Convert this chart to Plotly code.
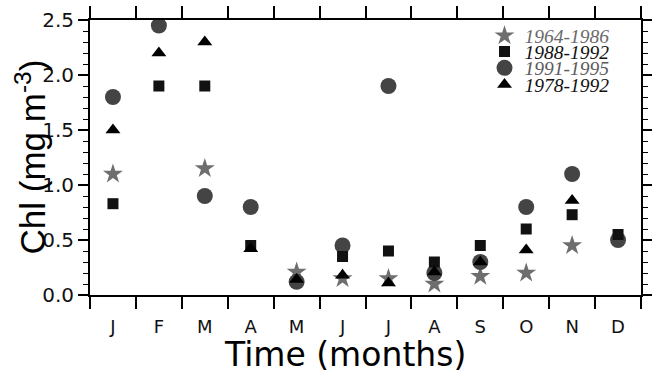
import plotly.graph_objects as go

months = ["J", "F", "M", "A", "M", "J", "J", "A", "S", "O", "N", "D"]
chl_1964_1986 = [1.10, None, 1.15, None, 0.21, 0.15, 0.15, 0.10, 0.17, 0.20, 0.45, None]
chl_1988_1992 = [0.83, 1.90, 1.90, 0.45, None, 0.35, 0.40, 0.30, 0.45, 0.60, 0.73, 0.55]
chl_1991_1995 = [1.80, 2.45, 0.90, 0.80, 0.12, 0.45, 1.90, 0.20, 0.30, 0.80, 1.10, 0.50]
chl_1978_1992 = [1.50, 2.20, 2.30, 0.42, 0.14, 0.18, 0.11, 0.21, 0.30, 0.41, 0.86, None]

xpos = [i + 0.5 for i in range(len(months))]

series = [
    # name, values, symbol, size, color, legend id, legend y, legend text color
    ("1964-1986", chl_1964_1986, "star", 15, "#6e6e6e", "legend", 0.942, "#6a6a6a"),
    ("1991-1995", chl_1991_1995, "circle", 16, "#444444", "legend3", 0.825, "#5a5a5a"),
    ("1988-1992", chl_1988_1992, "square", 11, "#111111", "legend2", 0.884, "#111111"),
    ("1978-1992", chl_1978_1992, "triangle-up", 13, "#000000", "legend4", 0.764, "#111111"),
]

fig = go.Figure()
legend_layout = {}
for name, vals, sym, size, col, lg, ly, tcol in series:
    fig.add_trace(go.Scatter(
        x=xpos, y=vals, mode="markers", name=name, legend=lg,
        marker=dict(symbol=sym, size=size, color=col, line=dict(width=0)),
    ))
    legend_layout[lg] = dict(
        x=0.716, y=ly, xanchor="left", yanchor="middle",
        bgcolor="rgba(0,0,0,0)", borderwidth=0,
        font=dict(family="Liberation Serif", size=19.5, style="italic", color=tcol),
        itemwidth=30,
    )

fig.update_layout(
    width=652, height=373,
    margin=dict(l=90, r=11, t=20, b=78, autoexpand=False),
    paper_bgcolor="white", plot_bgcolor="white",
    showlegend=True,
    **legend_layout,
    xaxis=dict(
        range=[0, 12], tickmode="array", tickvals=xpos, ticktext=months,
        ticks="outside", ticklen=14, tickcolor="rgba(0,0,0,0)",
        showline=True, linecolor="black", linewidth=2, mirror="ticks",
        showgrid=False, zeroline=False, automargin=False,
        tickfont=dict(family="DejaVu Sans", size=18, color="#111111"),
        minor=dict(tickmode="array", tickvals=list(range(13)), ticks="outside",
                   ticklen=12, tickwidth=1.5, tickcolor="black", showgrid=False),
    ),
    yaxis=dict(
        range=[0, 2.5], tick0=0, dtick=0.5, tickformat=".1f",
        ticks="outside", ticklen=10, tickwidth=1.5, tickcolor="black",
        showline=True, linecolor="black", linewidth=2, mirror="ticks",
        showgrid=False, zeroline=False, automargin=False,
        tickfont=dict(family="DejaVu Sans", size=20, color="#111111"),
        minor=dict(dtick=0.1, ticks="outside", ticklen=5, tickwidth=1,
                   tickcolor="black", showgrid=False),
    ),
    annotations=[
        dict(text="Time (months)", xref="paper", yref="paper", x=0.462, y=0,
             yshift=-59.5, xanchor="center", yanchor="middle", showarrow=False,
             font=dict(family="DejaVu Sans", size=33, color="black")),
        dict(text="Chl (mg m<sup>-3</sup>)", xref="paper", yref="paper", x=0, y=0.5,
             xshift=-60, xanchor="center", yanchor="middle", textangle=-90,
             showarrow=False,
             font=dict(family="Liberation Sans", size=35, color="black")),
    ],
)

fig.write_html("out.html", config={"displayModeBar": False},
               post_script="document.body.style.margin='0';document.body.style.overflow='hidden';")
